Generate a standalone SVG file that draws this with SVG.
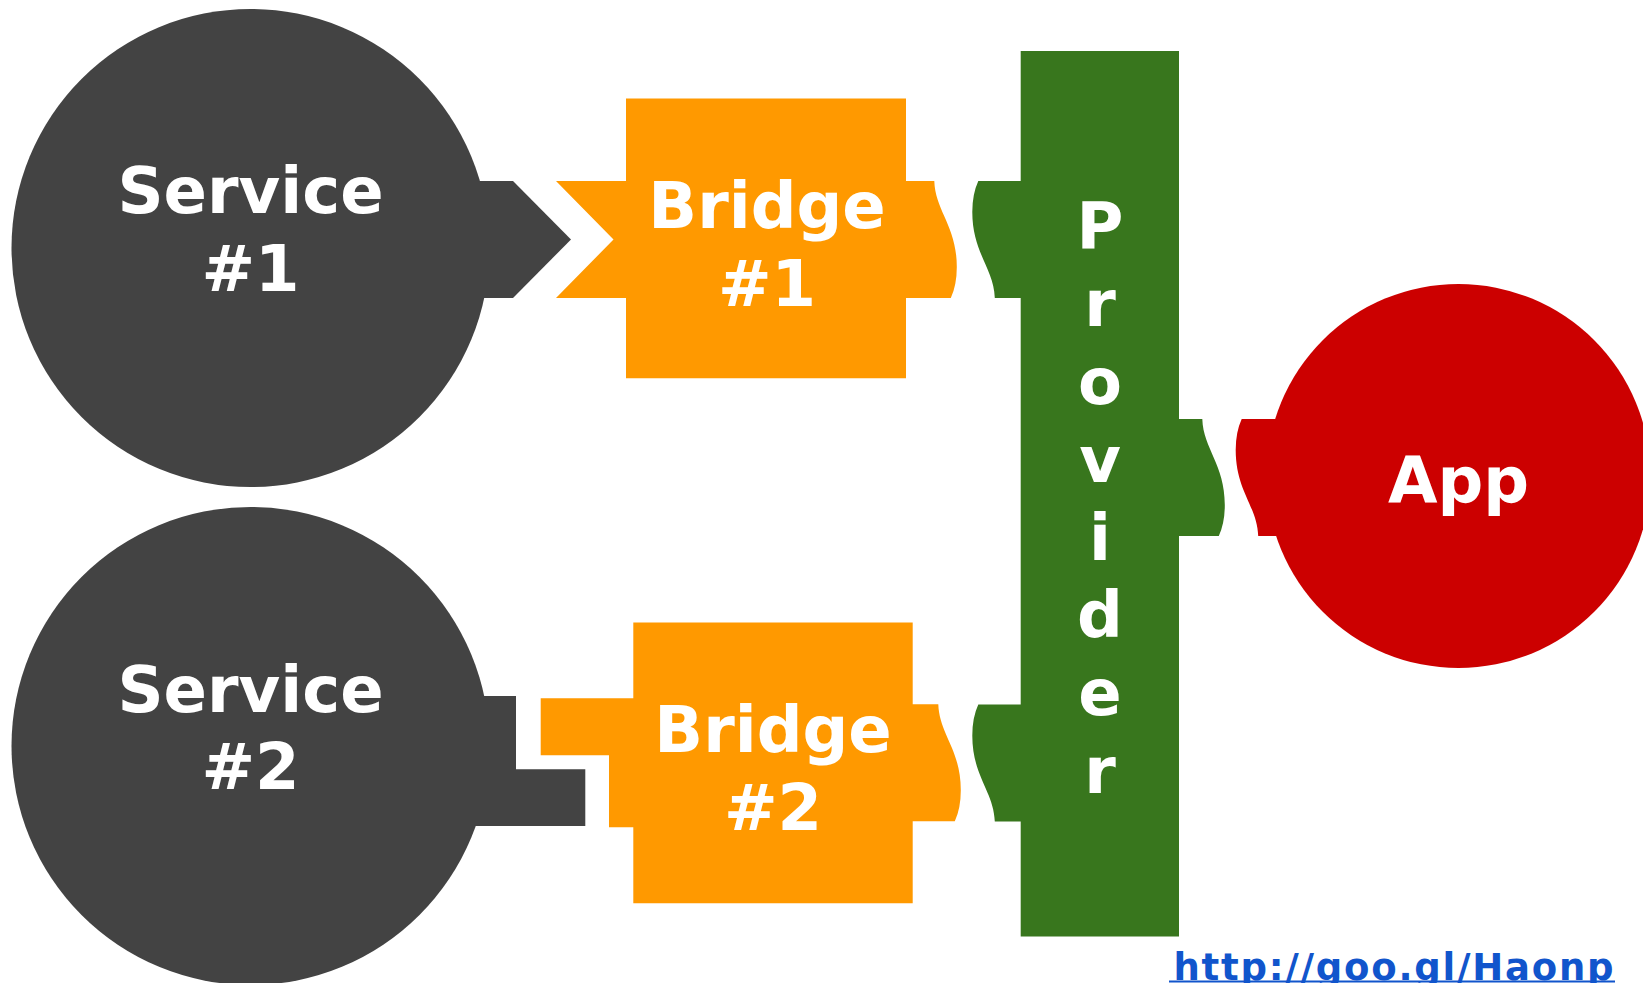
<svg xmlns="http://www.w3.org/2000/svg" width="1643" height="983" viewBox="0 0 1643 983">
<style>
.svc{fill:#434343}
.brg{fill:#ff9900}
.prv{fill:#38761d}
.app{fill:#cc0000}
.lbl{font-family:"DejaVu Sans",Verdana,sans-serif;font-weight:bold;font-size:64px;fill:#ffffff;text-anchor:middle}
.url{font-family:"DejaVu Sans",Verdana,sans-serif;font-weight:bold;font-size:37px;fill:#1155cc}
</style>
<rect width="1643" height="983" fill="#ffffff"/>
<g id="service1">
<circle class="svc" cx="250.5" cy="248" r="239"/>
<path class="svc" d="M460,181 H513 L571,239.5 L513,298 H460 Z"/>
<text class="lbl" x="250.5" y="213.3">Service</text>
<text class="lbl" x="250.5" y="291">#1</text>
</g>
<g id="service2">
<circle class="svc" cx="250.5" cy="746" r="239"/>
<path class="svc" d="M440,696 H516 V769.3 H585.3 V826 H440 Z"/>
<text class="lbl" x="250.5" y="711.5">Service</text>
<text class="lbl" x="250.5" y="789">#2</text>
</g>
<g id="bridge1">
<path class="brg" d="M626,98.5 H906 V181 H934.3 C935.3,211 956.8,226 956.8,267 Q956.8,285 950.8,298 H906 V378.3 H626 V298 H556 L613.5,239.5 L556,181 H626 Z"/>
<text class="lbl" x="767" y="228">Bridge</text>
<text class="lbl" x="767" y="306">#1</text>
</g>
<g id="bridge2">
<path class="brg" d="M633.3,622.4 H912.7 V704.3 H938.3 C939.3,734.3 960.8,749.3 960.8,790.3 Q960.8,808.3 954.8,821.3 H912.7 V903.2 H633.3 V827.3 H609 V755.3 H540.7 V698.3 H633.3 Z"/>
<text class="lbl" x="773" y="752">Bridge</text>
<text class="lbl" x="773" y="830">#2</text>
</g>
<g id="provider">
<path class="prv" d="M1020.7,51 H1179 V419 H1202.3 C1203.3,449 1224.8,464 1224.8,505 Q1224.8,523 1218.8,536 H1179 V936.5 H1020.7 V821.5 H994.8 C993.8,791.5 972.3,776.5 972.3,735.5 Q972.3,717.5 978.3,704.5 H1020.7 V298 H994.8 C993.8,268 972.3,253 972.3,212 Q972.3,194 978.3,181 H1020.7 Z"/>
<text class="lbl" x="1100" y="248.3">P</text>
<text class="lbl" x="1100" y="326.1">r</text>
<text class="lbl" x="1100" y="403.9">o</text>
<text class="lbl" x="1100" y="481.7">v</text>
<text class="lbl" x="1100" y="559.5">i</text>
<text class="lbl" x="1100" y="637.3">d</text>
<text class="lbl" x="1100" y="715.1">e</text>
<text class="lbl" x="1100" y="792.9">r</text>
</g>
<g id="app">
<circle class="app" cx="1458.5" cy="476" r="192"/>
<path class="app" d="M1241.7,419 Q1235.7,432 1235.7,450 C1235.7,491 1257.2,506 1258.2,536 H1300 V419 Z"/>
<text class="lbl" x="1458.5" y="503">App</text>
</g>
<g id="connectors"></g>
<g id="link">
<text class="url" x="1173.5" y="980" textLength="440" lengthAdjust="spacing">http://goo.gl/Haonp</text>
<rect x="1169" y="980.5" width="446" height="2" fill="#1155cc"/>
</g>
</svg>
